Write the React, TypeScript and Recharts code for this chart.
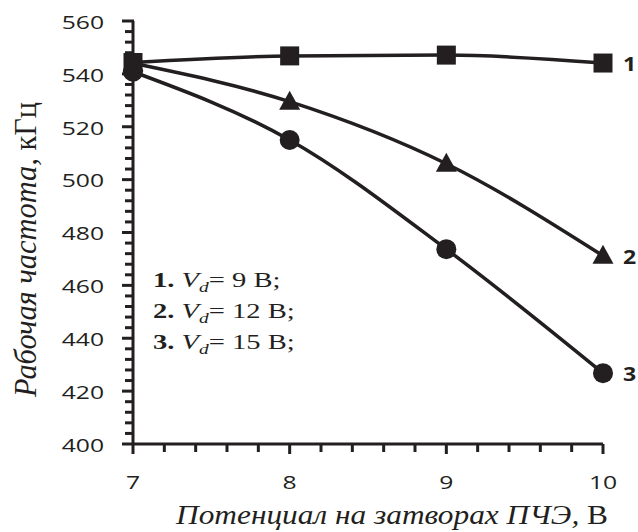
import React from 'react';
import { LineChart, Line, XAxis, YAxis, LabelList } from 'recharts';

// Потенциал на затворах (В)
const potentials = [7, 8, 9, 10];
// Рабочая частота (кГц) for the three drain voltages
const freqVd9 = [544.3, 546.8, 547.1, 544.1];
const freqVd12 = [544, 529.5, 506, 471.2];
const freqVd15 = [540.8, 515, 473.7, 426.8];

const seriesNames = ['1', '2', '3'];
// all tick positions (major + minor); labels only on the major ones
const yTicks = [
    400, 404, 408, 412, 416, 420, 424, 428, 432, 436, 440, 444, 448, 452, 456, 460, 464, 468, 472, 476,
    480, 484, 488, 492, 496, 500, 504, 508, 512, 516, 520, 524, 528, 532, 536, 540, 544, 548, 552, 556, 560
];
const yLabels = [400, 420, 440, 460, 480, 500, 520, 540, 560];
const xTicks = [7, 7.2, 7.4, 7.6, 7.8, 8, 8.2, 8.4, 8.6, 8.8, 9, 9.2, 9.4, 9.6, 9.8, 10];
const xLabels = [7, 8, 9, 10];

const data = potentials.map((p, i) => ({ p, s1: freqVd9[i], s2: freqVd12[i], s3: freqVd15[i] }));

const W = 638;
const H = 532;
const X_AXIS_H = 30;
const MARGIN = { top: 21, right: 35, bottom: 88 - X_AXIS_H, left: 132 };
const AXIS_Y = H - MARGIN.bottom - X_AXIS_H; // where the x axis line sits

const INK = '#231f20';
const SANS = '"Open Sans", sans-serif';
const SERIF = '"Liberation Serif", serif';

const isLabel = (list: number[], v: number) => list.some((l) => Math.abs(l - v) < 1e-6);

// label anchor is 29px left of the axis (tickSize 0, tickMargin 29)
const YTick = (props: any) => {
    const x = Number(props.x);
    const y = Number(props.y);
    const v = Number(props.payload.value);
    const major = isLabel(yLabels, v);
    return (
        <g>
            <line x1={x + (major ? 18 : 21)} x2={x + 30} y1={y} y2={y} stroke={INK} strokeWidth={3} />
            {major && (
                <text transform={`translate(${x},${y}) scale(1.3,1)`} textAnchor="end" dominantBaseline="central"
                    fontFamily={SANS} fontSize={19} fill={INK}>
                    {v}
                </text>
            )}
        </g>
    );
};

const XTick = (props: any) => {
    const x = Number(props.x);
    const v = Number(props.payload.value);
    const major = isLabel(xLabels, v);
    return (
        <g>
            <rect x={x - 1.5} y={AXIS_Y} width={3} height={major ? 10 : 8} fill={INK} />
            {major && (
                <text transform={`translate(${x},${AXIS_Y + 37}) scale(1.3,1)`} textAnchor="middle"
                    dominantBaseline="central" fontFamily={SANS} fontSize={19} fill={INK}>
                    {Math.round(v)}
                </text>
            )}
        </g>
    );
};

const SquareDot = ({ cx, cy, index }: any) => (
    <rect key={`sq-${index}`} x={cx - 9.5} y={cy - 9.5} width={19} height={19} fill={INK} />
);
const TriangleDot = ({ cx, cy, index }: any) => (
    <path key={`tr-${index}`} d={`M${cx},${cy - 11} L${cx + 10.5},${cy + 8} L${cx - 10.5},${cy + 8} Z`} fill={INK} />
);
const CircleDot = ({ cx, cy, index }: any) => (
    <circle key={`ci-${index}`} cx={cx} cy={cy} r={10} fill={INK} />
);

const endLabel = (name: string) => (props: any) => {
    const { x, y, index } = props;
    if (index !== potentials.length - 1) return null;
    return (
        <text transform={`translate(${Number(x) + 20},${y}) scale(1.15,1)`} dominantBaseline="central"
            fontFamily={SANS} fontWeight="bold" fontSize={20} fill={INK}>
            {name}
        </text>
    );
};

const legendLines = [
    { n: '1.', v: '9' },
    { n: '2.', v: '12' },
    { n: '3.', v: '15' }
];

export default function App() {
    return (
        <div style={{ position: 'absolute', left: 0, top: 0, width: W, height: H, background: '#fff' }}>
            <LineChart width={W} height={H} data={data} margin={MARGIN}>
                <XAxis dataKey="p" type="number" domain={[7, 10]} ticks={xTicks} interval={0}
                    height={X_AXIS_H} axisLine={{ stroke: INK, strokeWidth: 3 }} tickSize={0} tickMargin={10}
                    tickLine={false} tick={<XTick />} />
                <YAxis type="number" domain={[400, 560]} ticks={yTicks} interval={0}
                    width={1} axisLine={{ stroke: INK, strokeWidth: 3 }} tickSize={0} tickMargin={29}
                    tickLine={false} tick={<YTick />} />
                <Line type="monotone" dataKey="s3" stroke={INK} strokeWidth={3.5}
                    dot={CircleDot} activeDot={false} isAnimationActive={false}>
                    <LabelList dataKey="s3" content={endLabel(seriesNames[2])} />
                </Line>
                <Line type="monotone" dataKey="s2" stroke={INK} strokeWidth={3.5}
                    dot={TriangleDot} activeDot={false} isAnimationActive={false}>
                    <LabelList dataKey="s2" content={endLabel(seriesNames[1])} />
                </Line>
                <Line type="monotone" dataKey="s1" stroke={INK} strokeWidth={3.5}
                    dot={SquareDot} activeDot={false} isAnimationActive={false}>
                    <LabelList dataKey="s1" content={endLabel(seriesNames[0])} />
                </Line>
            </LineChart>
            <svg width={W} height={H} style={{ position: 'absolute', left: 0, top: 0, pointerEvents: 'none' }}>
                {/* легенда */}
                {legendLines.map((l, i) => (
                    <text key={l.n} transform={`translate(153,${287 + i * 31}) scale(1.3,1)`}
                        fontFamily={SERIF} fontSize={22} fill={INK}>
                        <tspan fontWeight="bold">{l.n}</tspan>
                        <tspan fontStyle="italic"> V</tspan>
                        <tspan fontStyle="italic" fontSize={15} dy={5}>d</tspan>
                        <tspan dy={-5}>= {l.v} В;</tspan>
                    </text>
                ))}
                <text transform="translate(36,397) scale(1.3,1) rotate(-90)" fontFamily={SERIF} fontSize={25}
                    fill={INK} textLength={295} lengthAdjust="spacingAndGlyphs">
                    <tspan fontStyle="italic">Рабочая частота, </tspan>
                    <tspan>кГц</tspan>
                </text>
                <text x={176} y={524} fontFamily={SERIF} fontSize={27} fill={INK}
                    textLength={432} lengthAdjust="spacingAndGlyphs">
                    <tspan fontStyle="italic">Потенциал на затворах ПЧЭ, </tspan>
                    <tspan>В</tspan>
                </text>
            </svg>
        </div>
    );
}
